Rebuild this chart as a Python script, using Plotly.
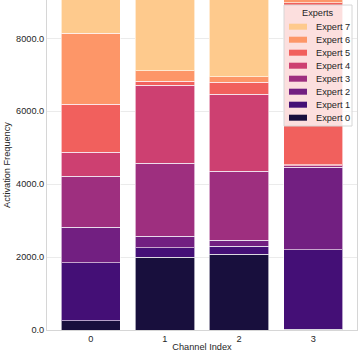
import plotly.graph_objects as go

channels = [0, 1, 2, 3]
experts = ["Expert 0", "Expert 1", "Expert 2", "Expert 3",
           "Expert 4", "Expert 5", "Expert 6", "Expert 7"]

# activation counts per expert, one value per channel
expert_0 = [255, 1994, 2076, 25]
expert_1 = [1591, 255, 220, 2178]
expert_2 = [971, 320, 164, 2259]
expert_3 = [1399, 2003, 1893, 45]
expert_4 = [658, 2139, 2112, 20]
expert_5 = [1316, 110, 329, 4443]
expert_6 = [1948, 292, 155, 246]
expert_7 = [1078, 2103, 2267, 0]

y_ticks = [0, 2000, 4000, 6000, 8000]

series = [expert_0, expert_1, expert_2, expert_3,
          expert_4, expert_5, expert_6, expert_7]
magma = ["#180f3d", "#440f76", "#721f81", "#9e2f7f",
         "#cd4071", "#f1605d", "#fd9668", "#feca8d"]

FONT = "Arial, Liberation Sans, sans-serif"
TXT = "#262626"
FS = 9.2

W, H = 359, 355
L, R, T, B = 47, 2, 0, 25
PW, PH = W - L - R, H - T - B


def px(x):  # pixel -> paper x
    return (x - L) / PW


def py(y):  # pixel -> paper y
    return (H - B - y) / PH


fig = go.Figure()
for name, vals, col in zip(experts, series, magma):
    fig.add_trace(go.Bar(
        x=channels,
        y=vals,
        name=name,
        showlegend=False,
        marker={"color": col, "line": {"color": "rgba(255,255,255,0.6)", "width": 1}},
    ))

# legend drawn by hand so the rows can be as tight as matplotlib's
shapes = [dict(type="rect", xref="paper", yref="paper",
               x0=px(284), x1=px(352), y0=py(126), y1=py(5),
               fillcolor="rgba(255,255,255,0.8)",
               line={"color": "#d6d6d6", "width": 1}, layer="above")]
annotations = [dict(text="Experts", xref="paper", yref="paper",
                    x=px(318), y=py(13.3), showarrow=False,
                    xanchor="center", yanchor="middle",
                    font={"size": FS, "color": TXT, "family": FONT})]
for i, (name, col) in enumerate(reversed(list(zip(experts, magma)))):
    yc = 26.7 + 13 * i
    shapes.append(dict(type="rect", xref="paper", yref="paper",
                       x0=px(289), x1=px(307), y0=py(yc + 3), y1=py(yc - 3),
                       fillcolor=col, line={"width": 0}, layer="above"))
    annotations.append(dict(text=name, xref="paper", yref="paper",
                            x=px(314), y=py(yc), showarrow=False,
                            xanchor="left", yanchor="middle",
                            font={"size": FS, "color": TXT, "family": FONT}))

fig.update_layout(
    width=W,
    height=H,
    barmode="stack",
    bargap=0.2,
    plot_bgcolor="white",
    paper_bgcolor="white",
    margin={"l": L, "r": R, "t": T, "b": B},
    font={"family": FONT, "size": FS, "color": TXT},
    showlegend=False,
    shapes=shapes,
    annotations=annotations,
    xaxis={
        "title": {"text": "Channel Index", "font": {"size": FS}, "standoff": 0},
        "tickvals": channels,
        "range": [-0.59, 3.59],
        "showgrid": False,
        "showline": True,
        "linecolor": "#d6d6d6",
        "mirror": True,
        "ticks": "",
        "zeroline": False,
        "automargin": False,
    },
    yaxis={
        "title": {"text": "Activation Frequency", "font": {"size": FS}, "standoff": 3},
        "tickvals": y_ticks,
        "tickformat": ".1f",
        "range": [0, 9050],
        "showgrid": True,
        "gridcolor": "#ebebeb",
        "showline": True,
        "linecolor": "#d6d6d6",
        "mirror": True,
        "ticks": "",
        "zeroline": False,
        "automargin": False,
    },
)

# the page's default 8px body margin would shift the figure out of the window
fig.write_html("out.html", config={"displayModeBar": False},
               post_script="document.body.style.margin='0';")
